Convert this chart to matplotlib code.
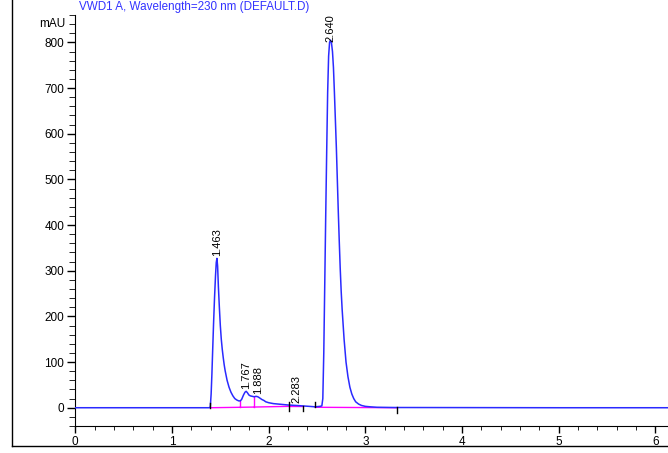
import matplotlib.pyplot as plt
from matplotlib.lines import Line2D
from matplotlib.ticker import MultipleLocator

plt.rcParams['font.family'] = ['Liberation Sans', 'DejaVu Sans']

# =====================================
# Data
# =====================================
time_min = [0.0, 1.38, 1.396, 1.405, 1.413, 1.42, 1.43, 1.44, 1.45, 1.458,
            1.465, 1.472, 1.48, 1.49, 1.50, 1.51, 1.52, 1.53, 1.54, 1.55,
            1.57, 1.59, 1.61, 1.63, 1.65, 1.67, 1.69, 1.706, 1.72, 1.74,
            1.755, 1.767, 1.78, 1.795, 1.81, 1.83, 1.85, 1.87, 1.888, 1.91,
            1.93, 1.95, 1.97, 2.0, 2.05, 2.1, 2.2, 2.283, 2.35, 2.42,
            2.48, 2.53, 2.55, 2.56, 2.57, 2.58, 2.59, 2.60, 2.61, 2.62,
            2.63, 2.64, 2.65, 2.66, 2.67, 2.68, 2.69, 2.70, 2.71, 2.72,
            2.73, 2.74, 2.75, 2.76, 2.78, 2.80, 2.82, 2.84, 2.86, 2.88,
            2.90, 2.93, 2.96, 3.0, 3.05, 3.12, 3.3, 4.0, 5.0, 6.13]
signal_mau = [0, 0, 1, 30, 74, 120, 184, 240, 288, 318,
              327, 310, 265, 220, 180, 150, 128, 110, 94, 81,
              60, 45, 34, 26, 20, 17, 15, 15, 18, 28,
              34, 36, 33, 28, 26, 25, 24, 25, 24, 21,
              18, 16, 13, 11, 9, 8, 6, 5, 4, 3,
              2, 3, 4, 20, 120, 270, 420, 560, 690, 770,
              800, 805, 798, 780, 745, 690, 630, 570, 500, 430,
              365, 305, 255, 215, 150, 100, 68, 45, 30, 20,
              13, 8, 5, 3, 2, 1, 0.5, 0.3, 0, 0]

peak_rt = [1.463, 1.767, 1.888, 2.283, 2.640]
peak_height = [327, 36, 25, 6, 797]
peak_labels = ["1.463", "1.767", "1.888", "2.283", "2.640"]

# integration baselines (t0, y0, t1, y1)
base_segments = [(1.396, 0, 1.706, 1), (1.706, 1, 1.85, 1.5),
                 (1.85, 1.5, 2.206, 3), (2.206, 3, 2.36, 3), (2.48, 1, 3.325, 0)]
# peak split drops
drop_t = [1.706, 1.85]
drop_top = [15, 24]
drop_bottom = [1, 1.5]
# peak start / end ticks
event_t = [1.396, 2.206, 2.36, 2.48, 3.325]
event_lo = [-1, -7, -7, 1, -12]
event_hi = [11, 13, 4, 12, 2]

title = "VWD1 A, Wavelength=230 nm (DEFAULT.D)"

# =====================================
# Figure
# =====================================
fig = plt.figure(figsize=(6.68, 4.53), dpi=100)
ax = fig.add_axes([0.1127, 0.0596, 0.8873, 0.9073])

ax.plot(time_min, signal_mau, color='#2a2aff', lw=1.1, zorder=3)

for t0, y0, t1, y1 in base_segments:
    ax.plot([t0, t1], [y0, y1], color='#ff00ff', lw=1.0, zorder=2)
for t, lo, hi in zip(drop_t, drop_bottom, drop_top):
    ax.plot([t, t], [lo, hi], color='#ff00ff', lw=1.0, zorder=2)
for t, lo, hi in zip(event_t, event_lo, event_hi):
    ax.plot([t, t], [lo, hi], color='black', lw=1.0, zorder=4)

for rt, h, lab in zip(peak_rt, peak_height, peak_labels):
    ax.annotate(lab, (rt, h), xytext=(0, 1.5), textcoords='offset points',
                rotation=90, ha='center', va='bottom', fontsize=8, zorder=5)

ax.set_xlim(0, 6.13)
ax.set_ylim(-40, 860)
ax.xaxis.set_major_locator(MultipleLocator(1))
ax.xaxis.set_minor_locator(MultipleLocator(0.2))
ax.yaxis.set_major_locator(MultipleLocator(100))
ax.yaxis.set_minor_locator(MultipleLocator(20))
ax.tick_params(axis='both', which='major', labelsize=8.5, width=1, color='black')
ax.tick_params(axis='y', which='major', length=6, pad=2)
ax.tick_params(axis='y', which='minor', length=4)
ax.tick_params(axis='x', which='major', length=5, pad=2)
ax.tick_params(axis='x', which='minor', length=3)

for side in ['top', 'right']:
    ax.spines[side].set_visible(False)
ax.patch.set_visible(False)

ax.text(-0.1, 840, "mAU", ha='right', va='center', fontsize=8.5)

fig.text(0.118, 0.979, title, color='#3333ff', fontsize=8.4, ha='left', va='baseline')

# outer frame
fig.add_artist(Line2D([0.0175, 0.0175], [0.016, 1.0], color='black', lw=1))
fig.add_artist(Line2D([0.0175, 1.0], [0.016, 0.016], color='black', lw=1))

fig.savefig("out.png", dpi=100)
